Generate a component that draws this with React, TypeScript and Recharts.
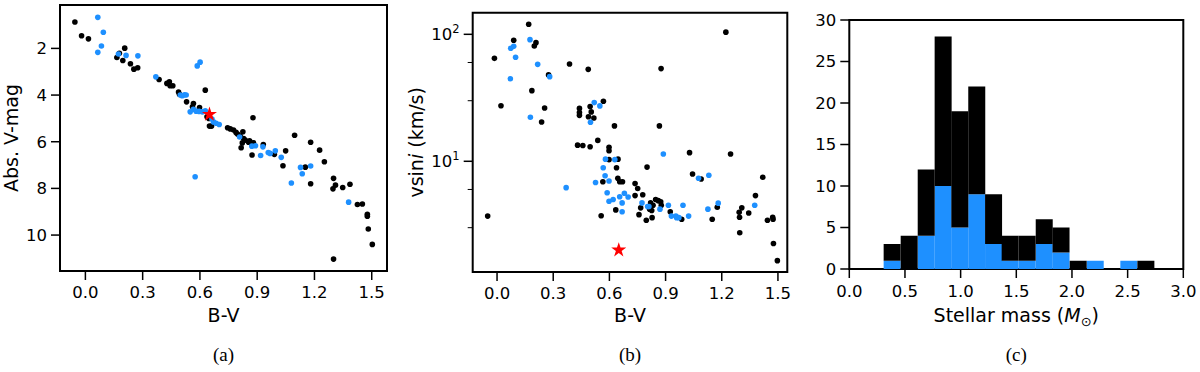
import React from "react";
import {
  Bar,
  BarChart,
  ReferenceArea,
  Scatter,
  ScatterChart,
  Symbols,
  XAxis,
  YAxis,
} from "recharts";

const FONT = "DejaVu Sans";
const BLUE = "#1E90FF";

// (B-V, absolute V magnitude)
const cmdBlack: [number, number][] = [
  [-0.055, 0.87], [-0.02, 1.46], [0.016, 1.59], [0.165, 2.39], [0.178, 2.21],
  [0.196, 2.52], [0.206, 1.99], [0.236, 2.66], [0.254, 2.89], [0.274, 2.83],
  [0.386, 3.33], [0.427, 3.5], [0.44, 3.43], [0.444, 3.6], [0.458, 3.6],
  [0.488, 3.87], [0.493, 3.97], [0.53, 4.29], [0.566, 4.36], [0.561, 4.5],
  [0.598, 4.53], [0.628, 3.79], [0.637, 4.93], [0.647, 5.0], [0.65, 5.33],
  [0.661, 5.33], [0.745, 5.4], [0.759, 5.45], [0.776, 5.5], [0.789, 5.6],
  [0.797, 5.67], [0.811, 5.76], [0.825, 5.57], [0.829, 5.86], [0.837, 5.93],
  [0.855, 6.02], [0.878, 4.97], [0.822, 6.05], [0.816, 6.26], [0.86, 5.96],
  [0.867, 6.05], [0.881, 6.05], [0.932, 6.12], [0.873, 6.57], [0.99, 6.54],
  [1.049, 6.39], [1.035, 7.03], [1.096, 5.72], [1.152, 7.09], [1.18, 6.02],
  [1.18, 7.8], [1.227, 6.36], [1.252, 6.86], [1.3, 7.57], [1.31, 7.86],
  [1.297, 8.02], [1.348, 7.96], [1.386, 7.82], [1.425, 8.69], [1.451, 8.67],
  [1.477, 9.11], [1.477, 9.19], [1.482, 9.74], [1.503, 10.4], [1.3, 11.03],
];

const cmdBlue: [number, number][] = [
  [0.065, 0.67], [0.094, 1.31], [0.084, 1.9], [0.065, 2.17], [0.173, 2.24],
  [0.213, 2.3], [0.275, 2.32], [0.601, 2.59], [0.586, 2.75], [0.369, 3.22],
  [0.497, 4.0], [0.507, 4.03], [0.519, 3.99], [0.528, 4.0], [0.549, 4.72],
  [0.566, 4.61], [0.58, 4.69], [0.596, 4.7], [0.613, 4.72], [0.628, 4.67],
  [0.663, 5.03], [0.671, 5.15], [0.685, 5.21], [0.701, 5.26], [0.808, 5.8],
  [0.872, 6.19], [0.891, 6.17], [0.93, 6.22], [0.918, 6.59], [0.958, 6.46],
  [0.968, 6.5], [0.995, 6.39], [1.026, 6.67], [1.079, 7.77], [1.127, 7.1],
  [1.136, 7.37], [1.18, 7.04], [1.379, 8.59], [0.575, 7.5],
];

// (B-V, v sin i in km/s)
const rotBlack: [number, number][] = [
  [-0.05, 3.7], [-0.014, 64.7], [0.021, 27.4], [0.089, 89.8], [0.169, 120],
  [0.199, 81], [0.208, 86], [0.186, 36], [0.238, 20.4], [0.254, 26.3],
  [0.275, 47.9], [0.387, 58.4], [0.487, 53], [0.44, 26.1], [0.44, 24.2],
  [0.44, 23], [0.497, 27], [0.503, 24.5], [0.488, 22.4], [0.517, 21.9],
  [0.568, 29.7], [0.43, 13.4], [0.458, 13.3], [0.497, 13.0], [0.538, 14.6],
  [0.598, 12.9], [0.598, 12.1], [0.627, 19], [0.598, 10.3], [0.646, 10.4],
  [0.638, 8.9], [0.645, 7.35], [0.655, 6.9], [0.67, 6.9], [0.565, 6.9],
  [0.634, 4.14], [0.556, 3.72], [0.737, 6.67], [0.751, 6.1], [0.737, 5.37],
  [0.778, 5.45], [0.758, 3.8], [0.767, 4.3], [0.797, 3.43], [0.801, 9.0],
  [0.815, 4.2], [0.826, 4.1], [0.833, 4.5], [0.82, 4.7], [0.828, 3.6],
  [0.847, 5.0], [0.861, 4.9], [0.874, 4.8], [0.877, 4.5], [0.867, 19],
  [0.876, 53.7], [0.925, 4.0], [0.986, 3.5], [1.028, 11.7], [1.044, 7.95],
  [1.09, 7.25], [1.149, 3.5], [1.176, 4.35], [1.222, 104], [1.247, 11.4],
  [1.293, 3.96], [1.295, 3.62], [1.307, 4.3], [1.296, 2.74], [1.344, 3.92],
  [1.38, 5.37], [1.419, 7.48], [1.444, 3.43], [1.474, 3.5], [1.472, 3.62],
  [1.476, 2.25], [1.497, 1.65],
];

const rotBlue: [number, number][] = [
  [0.073, 77.6], [0.089, 80.4], [0.099, 65.9], [0.071, 44.7], [0.176, 90.8],
  [0.217, 58], [0.281, 46.4], [0.178, 22.2], [0.369, 6.2], [0.499, 20.3],
  [0.519, 29], [0.549, 27.3], [0.526, 6.8], [0.579, 10.4], [0.629, 10.3],
  [0.567, 8.9], [0.577, 7.7], [0.598, 7.0], [0.588, 5.66], [0.598, 4.85],
  [0.62, 5.0], [0.655, 5.25], [0.68, 5.6], [0.7, 5.23], [0.668, 4.7],
  [0.668, 4.0], [0.774, 4.7], [0.804, 4.4], [0.811, 4.4], [0.87, 4.2],
  [0.888, 11.4], [0.915, 4.5], [0.931, 3.7], [0.955, 3.7], [0.959, 3.6],
  [0.971, 3.6], [0.993, 4.5], [1.023, 3.7], [1.076, 7.35], [1.131, 7.76],
  [1.126, 4.2], [1.181, 4.68], [1.376, 4.5],
];

const sunCmd = [{ x: 0.65, y: 4.83 }];
const sunRot = [{ x: 0.65, y: 2.0 }];

// histogram of stellar mass
const massBins = [0.383, 0.536, 0.689, 0.841, 0.991, 1.143, 1.294, 1.443, 1.596, 1.749, 1.9, 2.054, 2.207, 2.356, 2.509, 2.662];
const massAll = [3, 4, 12, 28, 19, 22, 9, 4, 4, 6, 5, 1, 1, 0, 1, 1];
const massBlue = [1, 0, 4, 10, 5, 9, 3, 1, 1, 3, 2, 0, 1, 0, 1, 0];

const bvTicks = [0, 0.3, 0.6, 0.9, 1.2, 1.5];
const mvTicks = [2, 4, 6, 8, 10];
const rotTicks = [2, 3, 4, 5, 6, 7, 8, 9, 10, 20, 30, 40, 50, 60, 70, 80, 90, 100];
const massTicks = [0, 0.5, 1, 1.5, 2, 2.5, 3];
const countTicks = [0, 5, 10, 15, 20, 25, 30];

const toPts = (arr: [number, number][]) => arr.map(([x, y]) => ({ x, y }));
const histData = massBins.map((mid, i) => ({
  mid,
  blue: massBlue[i],
  rest: massAll[i] - massBlue[i],
}));

const tickStyle = { fontSize: 16.5, fill: "#000", fontFamily: FONT };
const tickLineStyle = { stroke: "#000", strokeWidth: 1.5 };

const dot = (color: string) => (p: any) => (
  <circle cx={p.cx} cy={p.cy} r={2.8} fill={color} />
);
const star = (p: any) => (
  <Symbols cx={p.cx} cy={p.cy} type="star" size={70} fill="#FF0000" />
);

function XTitle(props: any) {
  const { viewBox, shiftY, kind } = props;
  const cx = viewBox.x + viewBox.width / 2;
  const y = viewBox.y + shiftY;
  if (kind === "mass") {
    return (
      <text x={cx} y={y} textAnchor="middle" fontSize={19} fontFamily={FONT}>
        <tspan>Stellar mass (</tspan>
        <tspan fontStyle="italic">M</tspan>
        <tspan fontSize={13} dy={4}>⊙</tspan>
        <tspan dy={-4}>)</tspan>
      </text>
    );
  }
  return (
    <text x={cx} y={y} textAnchor="middle" fontSize={19} fontFamily={FONT}>
      B-V
    </text>
  );
}

function YTitle(props: any) {
  const { viewBox, baseX, kind } = props;
  const cy = viewBox.y + viewBox.height / 2;
  return (
    <text
      x={baseX}
      y={cy}
      textAnchor="middle"
      fontSize={19}
      fontFamily={FONT}
      transform={`rotate(-90, ${baseX}, ${cy})`}
    >
      {kind === "rot" ? (
        <>
          <tspan>vsin</tspan>
          <tspan fontStyle="italic">i</tspan>
          <tspan> (km/s)</tspan>
        </>
      ) : (
        "Abs. V-mag"
      )}
    </text>
  );
}

function LogTick(props: any) {
  const { x, y, payload } = props;
  const edge = x + 13;
  const v = payload.value;
  const major = v === 10 || v === 100;
  return (
    <g>
      <line
        x1={edge - (major ? 9 : 5)}
        x2={edge}
        y1={y}
        y2={y}
        stroke="#000"
        strokeWidth={major ? 1.5 : 1}
      />
      {major && (
        <text x={x} y={y} dy="0.35em" textAnchor="end" fontSize={16.5} fontFamily={FONT}>
          <tspan>10</tspan>
          <tspan fontSize={11.5} dy={-7}>{v === 10 ? "1" : "2"}</tspan>
        </text>
      )}
    </g>
  );
}

const caption: React.CSSProperties = {
  position: "absolute",
  top: 343,
  width: 60,
  textAlign: "center",
  fontFamily: "Liberation Serif",
  fontSize: 19,
  lineHeight: "24px",
};

export default function App() {
  return (
    <div
      style={{
        position: "fixed",
        left: 0,
        top: 0,
        width: 1200,
        height: 372,
        background: "#fff",
        overflow: "hidden",
      }}
    >
      <div style={{ position: "absolute", left: 0, top: 0 }}>
        <ScatterChart width={400} height={330} margin={{ top: 5, right: 13, bottom: 0, left: 0 }}>
          <XAxis
            type="number"
            dataKey="x"
            domain={[-0.133, 1.58]}
            allowDataOverflow
            ticks={bvTicks}
            tickFormatter={(v: number) => v.toFixed(1)}
            height={59}
            tickSize={9}
            tickMargin={6.6}
            axisLine={false}
            tickLine={tickLineStyle}
            tick={tickStyle}
            label={<XTitle shiftY={50.7} kind="bv" />}
          />
          <YAxis
            type="number"
            dataKey="y"
            reversed
            domain={[0.14, 11.54]}
            allowDataOverflow
            ticks={mvTicks}
            width={60}
            tickSize={9}
            tickMargin={4}
            axisLine={false}
            tickLine={tickLineStyle}
            tick={tickStyle}
            label={<YTitle baseX={17.5} kind="mv" />}
          />
          <ReferenceArea x1={-0.133} x2={1.58} y1={0.14} y2={11.54} fill="none" stroke="#000" strokeWidth={2} />
          <Scatter data={toPts(cmdBlack)} shape={dot("#000")} isAnimationActive={false} />
          <Scatter data={toPts(cmdBlue)} shape={dot(BLUE)} isAnimationActive={false} />
          <Scatter data={sunCmd} shape={star} isAnimationActive={false} />
        </ScatterChart>
      </div>

      <div style={{ position: "absolute", left: 400, top: 0 }}>
        <ScatterChart width={400} height={330} margin={{ top: 12.7, right: 12.7, bottom: 0, left: 0 }}>
          <XAxis
            type="number"
            dataKey="x"
            domain={[-0.13, 1.55]}
            allowDataOverflow
            ticks={bvTicks}
            tickFormatter={(v: number) => v.toFixed(1)}
            height={58}
            tickSize={9}
            tickMargin={6.6}
            axisLine={false}
            tickLine={tickLineStyle}
            tick={tickStyle}
            label={<XTitle shiftY={49.7} kind="bv" />}
          />
          <YAxis
            type="number"
            dataKey="y"
            scale="log"
            domain={[1.343, 148]}
            allowDataOverflow
            ticks={rotTicks}
            width={72.7}
            tickSize={9}
            tickMargin={4}
            axisLine={false}
            tickLine={false}
            tick={<LogTick />}
            label={<YTitle baseX={23} kind="rot" />}
          />
          <ReferenceArea x1={-0.13} x2={1.55} y1={1.343} y2={148} fill="none" stroke="#000" strokeWidth={2} />
          <Scatter data={toPts(rotBlack)} shape={dot("#000")} isAnimationActive={false} />
          <Scatter data={toPts(rotBlue)} shape={dot(BLUE)} isAnimationActive={false} />
          <Scatter data={sunRot} shape={star} isAnimationActive={false} />
        </ScatterChart>
      </div>

      <div style={{ position: "absolute", left: 800, top: 0 }}>
        <BarChart
          width={400}
          height={330}
          data={histData}
          margin={{ top: 20, right: 16.7, bottom: 0, left: 0 }}
          barCategoryGap={0}
          barGap={0}
        >
          <XAxis
            type="number"
            dataKey="mid"
            domain={[0, 3]}
            allowDataOverflow
            ticks={massTicks}
            tickFormatter={(v: number) => v.toFixed(1)}
            height={61}
            tickSize={9}
            tickMargin={7.3}
            axisLine={false}
            tickLine={tickLineStyle}
            tick={tickStyle}
            label={<XTitle shiftY={52.7} kind="mass" />}
          />
          <YAxis
            type="number"
            domain={[0, 30]}
            allowDataOverflow
            ticks={countTicks}
            width={49.3}
            tickSize={9}
            tickMargin={4}
            axisLine={false}
            tickLine={tickLineStyle}
            tick={tickStyle}
          />
          <Bar dataKey="blue" stackId="m" fill={BLUE} isAnimationActive={false} />
          <Bar dataKey="rest" stackId="m" fill="#000" isAnimationActive={false} />
          <ReferenceArea x1={0} x2={3} y1={0} y2={30} fill="none" stroke="#000" strokeWidth={2} />
        </BarChart>
      </div>

      <div style={{ ...caption, left: 223.5 - 30 }}>(a)</div>
      <div style={{ ...caption, left: 630 - 30 }}>(b)</div>
      <div style={{ ...caption, left: 1016.3 - 30 }}>(c)</div>
    </div>
  );
}
